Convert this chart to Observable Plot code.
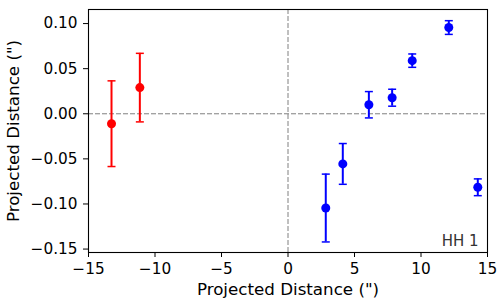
<!DOCTYPE html>
<html>
<head>
<meta charset="utf-8">
<script src="https://cdn.jsdelivr.net/npm/d3@7"></script>
<script src="https://cdn.jsdelivr.net/npm/@observablehq/plot@0.6"></script>
<style>
  html, body { margin: 0; padding: 0; background: #fff; }
</style>
</head>
<body>
<div id="chart"></div>
<script>
const redX   = [-13.27, -11.14];
const redY   = [-0.011, 0.029];
const redErr = [0.0475, 0.038];

const blueX   = [2.84, 4.12, 6.08, 7.83, 9.34, 12.09, 14.27];
const blueY   = [-0.1045, -0.0556, 0.010, 0.0178, 0.0589, 0.0956, -0.0815];
const blueErr = [0.0376, 0.0226, 0.0146, 0.0094, 0.0074, 0.0076, 0.0093];

const xTicks = [-15, -10, -5, 0, 5, 10, 15];
const yTicks = [-0.15, -0.10, -0.05, 0.00, 0.05, 0.10];
const xLabel = "Projected Distance (\")";
const yLabel = "Projected Distance (\")";
const annotation = "HH 1";

const mk = (xs, ys, es, color) => xs.map((x, i) => ({x, y: ys[i], e: es[i], color}));
const data = [...mk(redX, redY, redErr, "red"), ...mk(blueX, blueY, blueErr, "blue")];

const capSymbol = {
  draw(ctx) { ctx.moveTo(-4, 0); ctx.lineTo(4, 0); }
};

const fmtMinus = s => s.replace("-", "\u2212");

const chart = Plot.plot({
  width: 500,
  height: 300,
  marginLeft: 88,
  marginRight: 13,
  marginTop: 9,
  marginBottom: 48,
  style: { fontFamily: "DejaVu Sans", fontSize: "15.3px", color: "black", background: "white" },
  x: { domain: [-15, 15] },
  y: { domain: [-0.1538, 0.1156] },
  marks: [
    Plot.ruleY([0], { stroke: "#808080", strokeWidth: 1, strokeDasharray: "5,2" }),
    Plot.ruleX([0], { stroke: "#808080", strokeWidth: 1, strokeDasharray: "5,2" }),
    Plot.ruleX(data, { x: "x", y1: d => d.y - d.e, y2: d => d.y + d.e, stroke: "color", strokeWidth: 2 }),
    Plot.dot(data, { x: "x", y: d => d.y + d.e, symbol: capSymbol, stroke: "color", strokeWidth: 1.5, r: 4 }),
    Plot.dot(data, { x: "x", y: d => d.y - d.e, symbol: capSymbol, stroke: "color", strokeWidth: 1.5, r: 4 }),
    Plot.dot(data, { x: "x", y: "y", fill: "color", r: 4.5 }),
    Plot.frame({ stroke: "black", strokeWidth: 1.1 }),
    Plot.axisX(xTicks, { tickSize: 5, tickPadding: 6, tickFormat: d => fmtMinus(d3.format("d")(d)), label: null, fontSize: 15.3 }),
    Plot.axisY(yTicks, { tickSize: 5, tickPadding: 6, tickFormat: d => fmtMinus(d3.format(".2f")(d)), label: null, fontSize: 15.3 }),
    Plot.text([xLabel], { frameAnchor: "bottom", dy: 36.7, textAnchor: "middle", lineAnchor: "middle", fontSize: 16.7, fill: "black" }),
    Plot.text([yLabel], { frameAnchor: "left", dx: -75.3, rotate: -90, textAnchor: "middle", lineAnchor: "middle", fontSize: 16.7, fill: "black" }),
    Plot.text([annotation], { frameAnchor: "bottom-right", dx: -9, dy: -11.8, textAnchor: "end", lineAnchor: "middle", fontSize: 15, fill: "#333" })
  ]
});
document.getElementById("chart").appendChild(chart);
</script>
</body>
</html>
